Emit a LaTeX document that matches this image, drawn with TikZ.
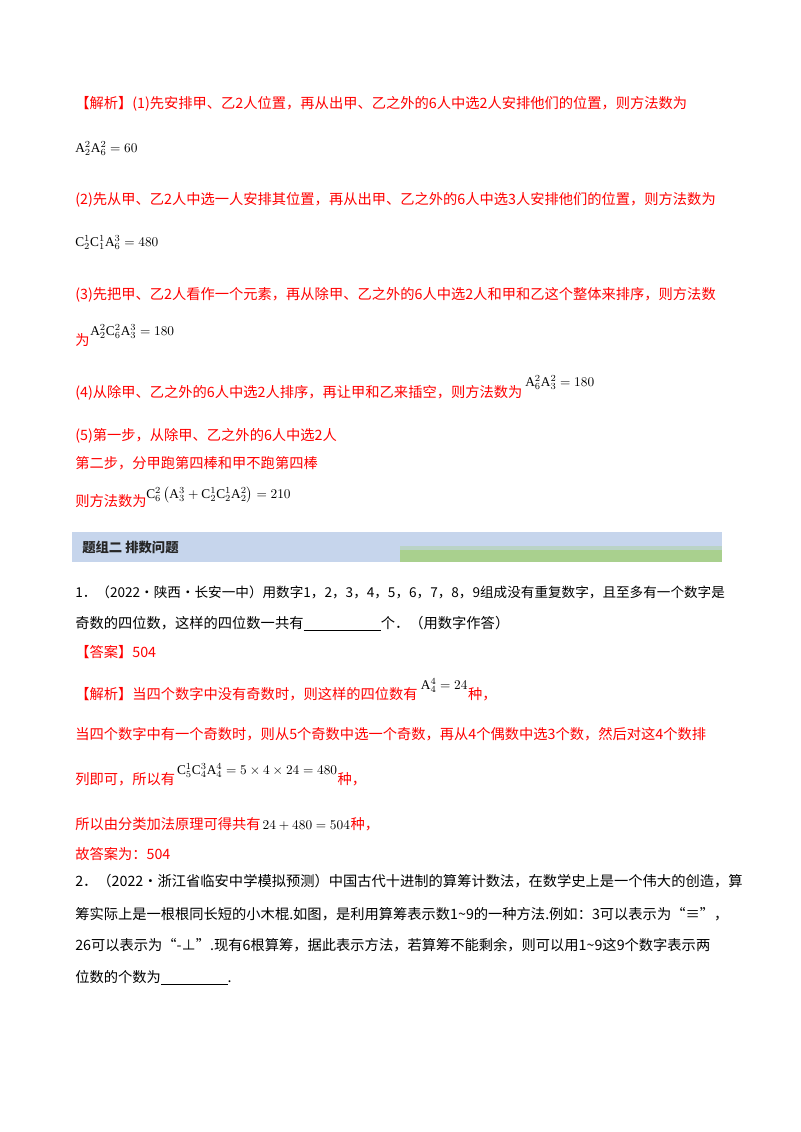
\documentclass[tikz,border=0pt]{standalone}
\usepackage{fontspec}
\setmainfont{Liberation Serif}
\newfontfamily\cjk{Noto Sans CJK SC}
\definecolor{rd}{HTML}{FF0000}
\definecolor{barblue}{HTML}{C6D5EC}
\definecolor{bargreen}{HTML}{A9D08E}
\newcommand{\Ax}[2]{\mathrm{A}_{#1}^{#2}}
\newcommand{\Cx}[2]{\mathrm{C}_{#1}^{#2}}
\begin{document}
\begin{tikzpicture}[x=0.75pt,y=-0.75pt,
  t/.style={anchor=base west,inner sep=0pt,font=\cjk\fontsize{10.7}{12}\selectfont},
  r/.style={t,text=rd},
  m/.style={anchor=base west,inner sep=0pt,font=\fontsize{10}{12}\selectfont}]
\useasboundingbox[fill=white] (0,0) rectangle (800,1132);
\node[r] (l1) at (75,108) {【解析】(1)先安排甲、乙2人位置，再从出甲、乙之外的6人中选2人安排他们的位置，则方法数为};
\node[m] (m1) at (75,152) {$\Ax22\Ax62=60$};
\node[r] (l2) at (75,204) {(2)先从甲、乙2人中选一人安排其位置，再从出甲、乙之外的6人中选3人安排他们的位置，则方法数为};
\node[m] (m2) at (75,246) {$\Cx21\Cx11\Ax63=480$};
\node[r] (l3) at (75,299) {(3)先把甲、乙2人看作一个元素，再从除甲、乙之外的6人中选2人和甲和乙这个整体来排序，则方法数};
\node[r] (l3b) at (75,345) {为};
\node[m] (m3) at (90,335) {$\Ax22\Cx62\Ax33=180$};
\node[r] (l4) at (75,397) {(4)从除甲、乙之外的6人中选2人排序，再让甲和乙来插空，则方法数为};
\node[m] (m4) at (525,386) {$\Ax62\Ax32=180$};
\node[r] (l5) at (75,440) {(5)第一步，从除甲、乙之外的6人中选2人};
\node[r] (l6) at (75,468) {第二步，分甲跑第四棒和甲不跑第四棒};
\node[r] (l7) at (75,506) {则方法数为};
\node[m] (m7) at (146,498) {$\Cx62\left(\Ax33+\Cx21\Cx21\Ax22\right)=210$};
\fill[barblue] (72,532) rectangle (722,562);
\fill[bargreen] (400,550) rectangle (722,562);
\fill[barblue!60!bargreen] (400,546) rectangle (722,550);
\node[t,font=\cjk\bfseries\fontsize{10}{12}\selectfont,text=black!85] (h) at (82,552) {题组二\ 排数问题};
\node[t,font=\cjk\fontsize{10.2}{12}\selectfont] (q1a) at (75,597) {1．（2022·陕西·长安一中）用数字1，2，3，4，5，6，7，8，9组成没有重复数字，且至多有一个数字是};
\node[t] (q1b) at (75,628) {奇数的四位数，这样的四位数一共有\underline{\hspace{58pt}}个．（用数字作答）};
\node[r] (a1) at (75,657) {【答案】504};
\node[r] (s1) at (75,699) {【解析】当四个数字中没有奇数时，则这样的四位数有};
\node[m] (sm1) at ([xshift=2pt]s1.base east) [yshift=7pt] {$\Ax44=24$};
\node[r] (s1b) at (sm1.east |- s1.base) {种，};
\node[r] (s2) at (75,739) {当四个数字中有一个奇数时，则从5个奇数中选一个奇数，再从4个偶数中选3个数，然后对这4个数排};
\node[r] (s3) at (75,784) {列即可，所以有};
\node[m] (sm3) at ([xshift=1pt]s3.base east) [yshift=7pt] {$\Cx51\Cx43\Ax44=5\times4\times24=480$};
\node[r] (s3b) at (sm3.east |- s3.base) {种，};
\node[r] (s4) at (75,829) {所以由分类加法原理可得共有};
\node[m] (sm4) at ([xshift=1pt]s4.base east) {$24+480=504$};
\node[r] (s4b) at (sm4.base east) {种，};
\node[r] (s5) at (75,859) {故答案为：504};
\node[t] (q2a) at (75,886) {2．（2022·浙江省临安中学模拟预测）中国古代十进制的算筹计数法，在数学史上是一个伟大的创造，算};
\node[t] (q2b) at (75,919) {筹实际上是一根根同长短的小木棍.如图，是利用算筹表示数1\textasciitilde9的一种方法.例如：3可以表示为“≡”，};
\node[t] (q2c) at (75,950) {26可以表示为“-⊥”.现有6根算筹，据此表示方法，若算筹不能剩余，则可以用1\textasciitilde9这9个数字表示两};
\node[t] (q2d) at (75,982) {位数的个数为\underline{\hspace{50pt}}.};
\end{tikzpicture}
\end{document}
